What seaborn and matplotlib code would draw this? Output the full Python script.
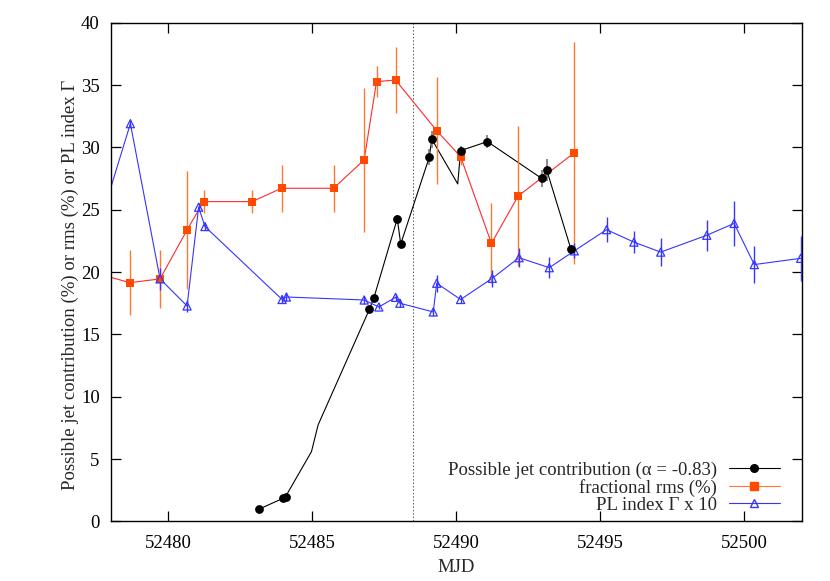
import matplotlib
matplotlib.use("Agg")
import matplotlib.pyplot as plt
import seaborn as sns
from matplotlib.lines import Line2D

# possible jet contribution (points with error bars)
jet_mjd = [52483.14, 52483.99, 52484.07, 52486.98, 52487.14, 52487.95, 52488.07,
           52489.06, 52489.15, 52490.15, 52491.08, 52492.96, 52493.14, 52493.98]
jet_val = [0.98, 1.86, 1.99, 17.0, 17.95, 24.28, 22.25,
           29.2, 30.65, 29.74, 30.46, 27.52, 28.19, 21.85]
jet_err = [0.1, 0.1, 0.1, 0.2, 0.2, 0.3, 0.3,
           0.65, 0.7, 0.4, 0.5, 0.7, 0.87, 0.3]
# the connecting curve passes through a few extra unmarked nodes
jet_line_mjd = [52483.14, 52483.99, 52484.07, 52484.97, 52485.2, 52486.98, 52487.14,
                52487.95, 52488.07, 52489.06, 52489.15, 52490.05, 52490.15, 52491.08,
                52492.96, 52493.14, 52493.98]
jet_line_val = [0.98, 1.86, 1.99, 5.6, 7.74, 17.0, 17.95,
                24.28, 22.25, 29.2, 30.65, 27.07, 29.74, 30.46,
                27.52, 28.19, 21.85]

# fractional rms (%)
rms_mjd = [52477.5, 52478.66, 52479.71, 52480.65, 52481.22, 52482.91, 52483.93,
           52485.74, 52486.8, 52487.23, 52487.89, 52489.32, 52490.15, 52491.22,
           52492.15, 52494.1]
rms_val = [19.9, 19.15, 19.45, 23.38, 25.65, 25.65, 26.72,
           26.72, 29.0, 35.27, 35.4, 31.34, 29.25, 22.3,
           26.1, 29.57]
rms_err = [2.5, 2.6, 2.3, 4.7, 0.94, 0.94, 1.9,
           1.9, 5.75, 1.23, 2.65, 4.3, 0.7, 3.2,
           5.6, 8.9]

# PL index Gamma x 10
pl_mjd = [52477.3, 52478.68, 52479.71, 52480.65, 52481.05, 52481.27, 52483.95, 52484.1,
          52486.8, 52487.31, 52487.89, 52488.04, 52489.2, 52489.32, 52490.15,
          52491.25, 52492.18, 52493.23, 52494.1, 52495.22, 52496.17, 52497.1,
          52498.7, 52499.65, 52500.35, 52501.96]
pl_val = [21.5, 31.9, 19.45, 17.28, 25.2, 23.65, 17.8, 18.0,
          17.76, 17.2, 17.97, 17.5, 16.8, 19.1, 17.8,
          19.5, 21.15, 20.35, 21.7, 23.4, 22.4, 21.6,
          22.95, 23.9, 20.6, 21.1]
pl_err = [0.4, 0.3, 0.9, 0.5, 0.3, 0.3, 0.3, 0.3,
          0.3, 0.2, 0.3, 0.3, 0.3, 0.7, 0.3,
          0.67, 0.75, 0.85, 0.6, 1.0, 0.9, 1.1,
          1.25, 1.8, 1.45, 1.8]

vline_mjd = 52488.5

sns.set_style("ticks")
plt.rcParams["font.family"] = ["Liberation Serif", "DejaVu Serif"]

fig = plt.figure(figsize=(8.3, 5.81), dpi=100)
ax = fig.add_axes([0.1335, 0.1025, 0.8325, 0.8585])

c_jet = "black"
c_rms_line = "#ff2a2a"
c_rms_mark = "#ff4a00"
c_rms_err = "#ff7a30"
c_pl = "#3535ff"
fs = 13.5

# connecting lines
sns.lineplot(x=jet_line_mjd, y=jet_line_val, sort=False, estimator=None,
             color=c_jet, lw=0.8, ax=ax)
sns.lineplot(x=rms_mjd, y=rms_val, sort=False, estimator=None,
             color=c_rms_line, lw=0.8, ax=ax)
sns.lineplot(x=pl_mjd, y=pl_val, sort=False, estimator=None,
             color=c_pl, lw=0.8, ax=ax)

# error bars and markers
ax.errorbar(rms_mjd, rms_val, yerr=rms_err, fmt="none", ecolor=c_rms_err,
            elinewidth=1.0, capsize=0, zorder=3)
ax.errorbar(pl_mjd, pl_val, yerr=pl_err, fmt="none", ecolor=c_pl,
            elinewidth=1.0, capsize=0, zorder=3)
ax.errorbar(jet_mjd, jet_val, yerr=jet_err, fmt="none", ecolor="#777777",
            elinewidth=1.2, capsize=0, zorder=3)
sns.scatterplot(x=rms_mjd, y=rms_val, marker="s", s=38, color=c_rms_mark,
                edgecolor=c_rms_mark, linewidth=0, ax=ax, zorder=4)
sns.scatterplot(x=pl_mjd, y=pl_val, marker="^", s=34, facecolor="none",
                edgecolor=c_pl, linewidth=0.9, ax=ax, zorder=4)
sns.scatterplot(x=jet_mjd, y=jet_val, marker="o", s=40, color=c_jet,
                edgecolor=c_jet, linewidth=0, ax=ax, zorder=5)

ax.axvline(vline_mjd, color="#555555", lw=0.7, ls=(0, (1.5, 2)), zorder=1)

ax.set_xlim(52478, 52502)
ax.set_ylim(0, 40)
ax.set_xticks(range(52480, 52501, 5))
ax.set_yticks(range(0, 41, 5))
ax.tick_params(direction="in", length=7, width=0.9, top=True, right=True,
               labelsize=fs, pad=8, colors="black")
ax.tick_params(axis="x", pad=10)
for sp in ax.spines.values():
    sp.set_visible(True)
    sp.set_linewidth(1.0)
    sp.set_color("black")

ax.set_xlabel("MJD", fontsize=fs, labelpad=5)
ax.set_ylabel("Possible jet contribution (%) or rms (%) or PL index Γ", fontsize=fs)
ax.yaxis.set_label_coords(-0.046, 0.474)

handles = [
    Line2D([], [], color=c_jet, lw=0.8, marker="o", markersize=5.5, markerfacecolor=c_jet),
    Line2D([], [], color=c_rms_err, lw=0.8, marker="s", markersize=5.5,
           markerfacecolor=c_rms_mark, markeredgecolor=c_rms_mark),
    Line2D([], [], color=c_pl, lw=0.8, marker="^", markersize=5.5,
           markerfacecolor="none", markeredgecolor=c_pl),
]
labels = ["Possible jet contribution (α = -0.83)", "fractional rms (%)", "PL index Γ x 10"]
ax.legend(handles, labels, loc="lower right", bbox_to_anchor=(0.979, 0.0),
          frameon=False, markerfirst=False, fontsize=fs, handlelength=2.7,
          labelspacing=0.0, handletextpad=0.65, borderaxespad=0.0)

fig.savefig("out.png", dpi=100)
